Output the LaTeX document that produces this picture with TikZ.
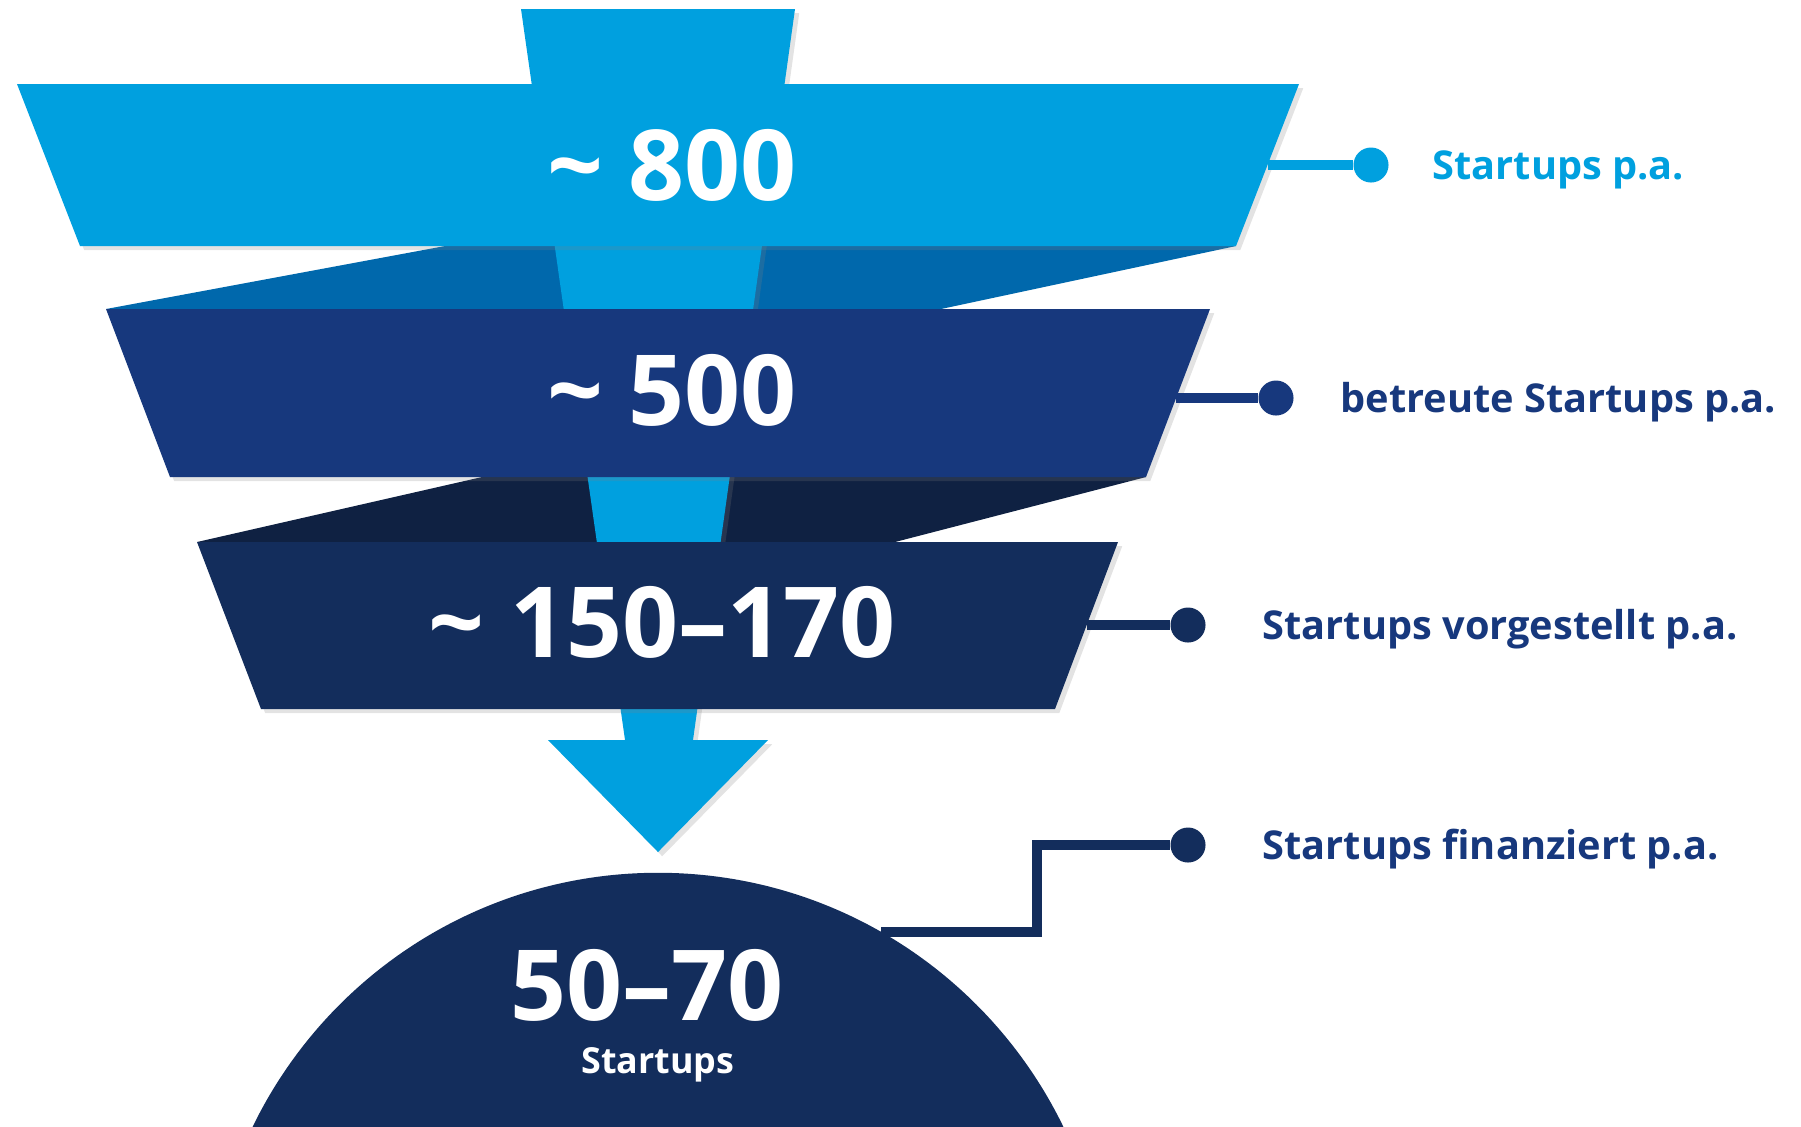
\documentclass[tikz,border=0pt]{standalone}
\usepackage{fontspec}
\setmainfont{Open Sans}
\usetikzlibrary{shadows}

\definecolor{skyblue}{RGB}{0,160,223}
\definecolor{foldblue}{RGB}{0,104,172}
\definecolor{royal}{RGB}{23,56,125}
\definecolor{navy}{RGB}{19,45,92}
\definecolor{foldnavy}{RGB}{15,33,66}

\begin{document}
\begin{tikzpicture}[x=0.01cm, y=-0.01cm,
    band/.style={drop shadow={shadow xshift=1.2pt, shadow yshift=-1.2pt, opacity=0.22}},
    link/.style={line width=2.6pt},
    dot/.style={circle, fill=#1, inner sep=0pt, minimum size=0.35cm},
    big/.style={text=white, anchor=base, inner sep=0pt,
      font=\bfseries\fontsize{27.9pt}{32pt}\selectfont},
    tag/.style={anchor=base west, inner sep=0pt,
      font=\bfseries\fontsize{11.3pt}{13pt}\selectfont}]
  \useasboundingbox (0,0) rectangle (1801,1126);
  \clip (0,0) rectangle (1801,1126);

  % folds behind the bands
  \fill[foldblue] (445,246) -- (1236,246) -- (941,309) -- (106,309) -- cycle;
  \fill[foldnavy] (482,477) -- (1146,477) -- (895,542) -- (197,542) -- cycle;

  % stem and arrow
  \fill[skyblue, band] (521,9) -- (795,9) -- (693,740) -- (768,740)
    -- (658,852) -- (548,740) -- (625,740) -- cycle;

  % the three bands
  \fill[skyblue, band] (17,84) -- (1299,84) -- (1236,246) -- (80,246) -- cycle;
  \fill[royal, band] (106,309) -- (1210,309) -- (1146,477) -- (170,477) -- cycle;
  \fill[navy, band] (197,542) -- (1118,542) -- (1055,709) -- (261,709) -- cycle;

  % result
  \fill[navy] (658,1323) circle[radius=4.5cm];

  \node[big] (n1) at (672,200) {\textasciitilde\ 800};
  \node[big] (n2) at (672,425) {\textasciitilde\ 500};
  \node[big] (n3) at (662,657) {\textasciitilde\ 150–170};
  \node[big] (n4) at (647,1020) {50–70};
  \node[text=white, anchor=base, inner sep=0pt,
    font=\bfseries\fontsize{10.2pt}{12pt}\selectfont] (n5) at (658,1073) {Startups};

  % connectors
  \coordinate (e1) at (1268,165);
  \coordinate (e2) at (1176,398);
  \coordinate (e3) at (1087,625);
  \coordinate (e4) at (881,932);
  \coordinate (k4) at (1037,845);
  \node[dot=skyblue] (d1) at (1371,165) {};
  \node[dot=royal] (d2) at (1276,398) {};
  \node[dot=navy] (d3) at (1188,625) {};
  \node[dot=navy] (d4) at (1188,845) {};
  \draw[link, skyblue] (e1) -- (d1);
  \draw[link, royal] (e2) -- (d2);
  \draw[link, navy] (e3) -- (d3);
  \draw[link, navy] (e4) -| (k4) -- (d4);

  \node[tag, text=skyblue] (t1) at (1432,179) {Startups p.a.};
  \node[tag, text=royal] (t2) at (1340,412) {betreute Startups p.a.};
  \node[tag, text=royal] (t3) at (1262,639) {Startups vorgestellt p.a.};
  \node[tag, text=royal] (t4) at (1262,859) {Startups finanziert p.a.};
\end{tikzpicture}
\end{document}
